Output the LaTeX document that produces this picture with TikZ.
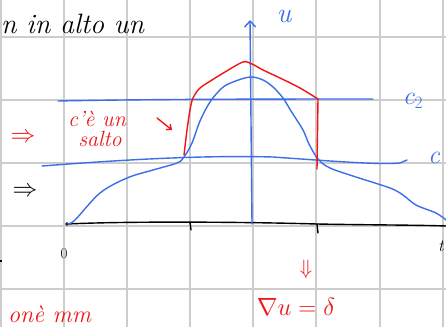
\documentclass[tikz,border=0pt]{standalone}
\usetikzlibrary{arrows.meta}
\definecolor{pblue}{RGB}{60,110,235}
\definecolor{pred}{RGB}{240,20,20}
\definecolor{pgrid}{RGB}{205,205,205}
\begin{document}
\begin{tikzpicture}[x=1pt,y=-1pt,
  gridline/.style={pgrid,line width=1.2pt},
  bluepen/.style={pblue,line width=1.4pt,line cap=round,line join=round},
  redpen/.style={pred,line width=1.4pt,line cap=round,line join=round},
  blackpen/.style={black,line width=1.4pt,line cap=round,line join=round},
  hand/.style={inner sep=0pt,font=\itshape\fontsize{28}{30}\selectfont},
  small/.style={inner sep=0pt,font=\itshape\fontsize{22}{24}\selectfont}]
\useasboundingbox (0,0) rectangle (446,327);
\clip (0,0) rectangle (446,327);
\fill[white] (0,0) rectangle (446,327);
% grid
\foreach \x in {1,64,127,190,253,316,380,443} \draw[gridline] (\x,0) -- (\x,327);
\foreach \y in {37,100,163,226,289} \draw[gridline] (0,\y) -- (446,\y);
% top text
\node[hand,anchor=base west] (title) at (1,33) {n in alto un};
% x axis
\draw[blackpen] (67,224) .. controls (130,221) and (250,222) .. (317,224) .. controls (370,225) and (420,225) .. (446,226);
\draw[blackpen] (190,222) -- (191,230);
\draw[blackpen] (317,224) -- (318,233);
\fill (67,224) circle (1.8pt);
\node[inner sep=0pt,font=\fontsize{15}{17}\selectfont] (zero) at (64,254) {0};
\node[inner sep=0pt,font=\itshape\fontsize{17}{19}\selectfont] (tlab) at (441,246) {t};
% vertical axis
\draw[bluepen,-{Straight Barb[length=6pt,width=11pt]}] (252,224) -- (250,20);
\node[inner sep=0pt,pblue,font=\itshape\fontsize{28}{30}\selectfont,anchor=base] (ulab) at (284,22) {u};
% c2 line
\draw[bluepen] (58,101) .. controls (150,99) and (300,99) .. (373,99);
\node[inner sep=0pt,pblue,font=\itshape\fontsize{26}{28}\selectfont] (c2) at (413,101) {c$_2$};
% c line
\draw[bluepen] (42,166) .. controls (120,160) and (200,155) .. (273,157) .. controls (330,161) and (380,165) .. (400,163) -- (407,160);
\node[inner sep=0pt,pblue,font=\itshape\fontsize{26}{28}\selectfont] (clab) at (434,158) {c};
% blue bump curve
\draw[bluepen] plot[smooth,tension=0.55] coordinates {(67,224) (75,220) (100,193) (127,178) (153,170) (177,163) (184,157) (192,143) (200,121) (210,102) (222,88) (233,82) (250,77) (263,80) (273,87) (283,98) (291,111) (303,130) (309,144) (318,159) (330,168) (356,177) (390,188) (403,195) (416,205) (436,213) (446,220)};
% red curve
\draw[redpen] plot[smooth,tension=0.5] coordinates {(184,155) (187,130) (190,110) (193,98) (200,88) (212,80) (225,72) (243,62) (252,64) (263,70) (280,78) (300,88) (318,99)};
\draw[redpen] (318,99) -- (317,169);
% red annotations
\node[inner sep=0pt,pred,font=\fontsize{24}{26}\selectfont] (impl1) at (23,138) {$\Rightarrow$};
\node[small,pred] (cun) at (97,119) {c'è un};
\node[small,pred] (salto) at (100,139) {salto};
\draw[redpen,-{Straight Barb[length=4pt,width=7pt]}] (157,118) -- (172,130);
\node[inner sep=0pt,black,font=\fontsize{24}{26}\selectfont] (impl2) at (25,192) {$\Rightarrow$};
\node[inner sep=0pt,pred,font=\fontsize{22}{24}\selectfont] (down) at (306,269) {$\Downarrow$};
\node[inner sep=0pt,pred,font=\fontsize{24}{26}\selectfont] (grad) at (296,307) {$\nabla u = \delta$};
\node[inner sep=0pt,pred,font=\itshape\fontsize{24}{26}\selectfont,anchor=base west] (bottom) at (8,322) {onè mm};
\fill (0,260) rectangle (2,262);
\end{tikzpicture}
\end{document}
